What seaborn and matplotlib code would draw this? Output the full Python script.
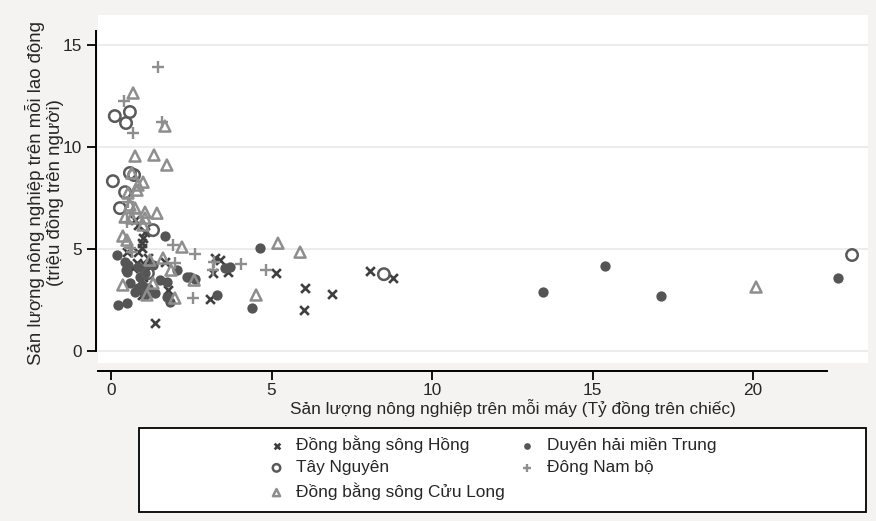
import numpy as np
import pandas as pd
import seaborn as sns
import matplotlib
matplotlib.use("Agg")
import matplotlib.pyplot as plt
from matplotlib.patches import Rectangle

# du lieu doc tu hinh goc
groups = ["Đồng bằng sông Hồng", "Duyên hải miền Trung", "Tây Nguyên",
          "Đông Nam bộ", "Đồng bằng sông Cửu Long"]

hong_x = [0.75, 0.84, 1.06, 1.00, 0.97, 0.97, 0.50, 0.84, 1.15, 0.81, 1.06, 1.06, 1.78,
          1.37, 3.24, 3.40, 3.18, 3.64, 3.08, 5.14, 6.04, 6.01, 6.88, 8.07, 8.78, 0.69,
          1.68, 1.00, 0.97]
hong_y = [6.42, 6.18, 5.83, 5.54, 5.05, 5.29, 4.85, 4.85, 4.56, 4.31, 4.22, 2.99, 2.99,
          1.37, 4.56, 4.46, 3.82, 3.87, 2.55, 3.82, 3.09, 2.01, 2.79, 3.92, 3.58, 4.07,
          4.36, 3.63, 2.75]

trung_x = [1.68, 0.19, 0.53, 0.84, 1.31, 2.06, 0.50, 1.06, 0.90, 2.37, 2.62, 2.46, 0.59,
           0.97, 1.74, 1.15, 0.84, 1.06, 1.37, 1.74, 1.84, 0.22, 0.50, 4.64, 3.55, 3.71,
           3.30, 4.39, 13.46, 15.39, 17.13, 22.65, 0.44, 0.47, 1.53, 0.75]
trung_y = [5.64, 4.71, 4.22, 4.12, 4.22, 3.97, 3.87, 3.82, 3.63, 3.63, 3.53, 3.63, 3.33,
           3.24, 3.38, 3.09, 3.09, 2.75, 2.84, 2.65, 2.40, 2.25, 2.35, 5.05, 4.07, 4.12,
           2.75, 2.11, 2.89, 4.17, 2.70, 3.58, 4.36, 3.97, 3.48, 2.89]

taynguyen_x = [0.12, 0.59, 0.47, 0.06, 0.59, 0.72, 0.44, 0.28, 1.31, 1.15, 8.50, 23.08]
taynguyen_y = [11.52, 11.72, 11.18, 8.33, 8.73, 8.63, 7.79, 7.01, 5.93, 3.82, 3.77, 4.71]

dongnam_x = [1.46, 0.40, 0.69, 1.59, 0.53, 0.69, 0.50, 1.93, 2.62, 0.65, 1.99, 2.55,
             3.21, 3.18, 4.05, 4.83, 0.59]
dongnam_y = [13.92, 12.25, 10.69, 11.23, 7.30, 6.76, 6.32, 5.20, 4.75, 4.85, 4.31, 2.60,
             4.36, 3.97, 4.26, 3.97, 5.05]

cuulong_x = [0.69, 1.68, 0.75, 1.34, 1.74, 0.65, 1.00, 0.84, 0.53, 0.81, 0.59, 0.75,
             1.06, 1.43, 0.44, 0.65, 1.06, 1.00, 0.37, 0.50, 2.21, 1.21, 1.62, 1.87,
             2.59, 0.37, 1.31, 1.12, 1.99, 4.52, 5.20, 5.89, 20.09]
cuulong_y = [12.65, 11.03, 9.56, 9.61, 9.12, 8.73, 8.28, 8.14, 7.75, 7.89, 7.16, 7.01,
             6.81, 6.76, 6.57, 6.52, 6.52, 6.18, 5.64, 5.44, 5.10, 4.46, 4.56, 3.97,
             3.48, 3.24, 3.33, 2.75, 2.60, 2.75, 5.29, 4.85, 3.14]

y_ticks = [0, 5, 10, 15]
x_ticks = [0, 5, 10, 15, 20]

series = [(hong_x, hong_y), (trung_x, trung_y), (taynguyen_x, taynguyen_y),
          (dongnam_x, dongnam_y), (cuulong_x, cuulong_y)]

# kieu diem cho tung vung
styles = {
    groups[0]: dict(marker="x", s=40, color="#3f3f3f", linewidths=1.9),
    groups[1]: dict(marker="o", s=55, color="#555555", linewidths=0),
    groups[2]: dict(marker="o", s=68, color="#5a5a5a", facecolor="none",
                    edgecolor="#5a5a5a", linewidths=1.8),
    groups[3]: dict(marker="+", s=75, color="#8e8e8e", linewidths=1.7),
    groups[4]: dict(marker="^", s=62, color="#8e8e8e", facecolor="none",
                    edgecolor="#8e8e8e", linewidths=1.8),
}

fs = 12.4
sns.set_style("white")
plt.rcParams["font.family"] = ["Liberation Sans", "DejaVu Sans"]
plt.rcParams["font.size"] = fs

fig = plt.figure(figsize=(8.76, 5.21), dpi=100, facecolor="#f4f3f1")
ax = fig.add_axes([0.112, 0.303, 0.879, 0.668])
ax.set_facecolor("white")

for name, (xs, ys) in zip(groups, series):
    df = pd.DataFrame({"x": xs, "y": ys})
    sns.scatterplot(data=df, x="x", y="y", ax=ax, label=name, zorder=3, **styles[name])

ax.set_xlim(-0.4, 23.58)
ax.set_ylim(-0.59, 16.47)
ax.set_xticks(x_ticks)
ax.set_yticks(y_ticks)
ax.set_xticklabels([str(t) for t in x_ticks])
ax.set_yticklabels([str(t) for t in y_ticks])
for t in y_ticks:
    ax.axhline(t, color="#ececec", lw=1.5, zorder=1)

for side in ["top", "right"]:
    ax.spines[side].set_visible(False)
ax.spines["left"].set_position(("outward", 1.5))
ax.spines["left"].set_bounds(0, 15.7)
ax.spines["bottom"].set_position(("outward", 6))
ax.spines["bottom"].set_bounds(-0.4, 22.3)
for side in ["left", "bottom"]:
    ax.spines[side].set_color("black")
    ax.spines[side].set_linewidth(1.4)
ax.tick_params(axis="both", direction="out", length=6.5, width=1.3, color="black",
               labelsize=fs, left=True, bottom=True)
ax.tick_params(axis="y", pad=3.5)
ax.tick_params(axis="x", pad=2.0)
ax.set_xlabel("")
ax.set_ylabel("")
ax.get_legend().remove()

fig.text(0.5855, 0.2169, "Sản lượng nông nghiệp trên mỗi máy (Tỷ đồng trên chiếc)",
         ha="center", va="center", fontsize=fs)
fig.text(0.051, 0.63, "Sản lượng nông nghiệp trên mỗi lao động\n(triệu đồng trên người)",
         ha="center", va="center", rotation=90, fontsize=13.4, multialignment="center",
         linespacing=1.05)

# khung chu giai
fig.patches.append(Rectangle((0.1587, 0.0173), 0.830, 0.161, transform=fig.transFigure,
                             facecolor="white", edgecolor="black", lw=1.3, zorder=0))
handles, labels = ax.get_legend_handles_labels()
order = [0, 2, 4, 1, 3]
fig.legend([handles[i] for i in order], [labels[i] for i in order], ncol=2,
           loc="center", bbox_to_anchor=(0.563, 0.102), frameon=False,
           fontsize=fs, markerscale=0.65, handlelength=0.8, handletextpad=0.75,
           columnspacing=0.9, labelspacing=0.42)

fig.savefig("out.png", dpi=100, facecolor=fig.get_facecolor())
